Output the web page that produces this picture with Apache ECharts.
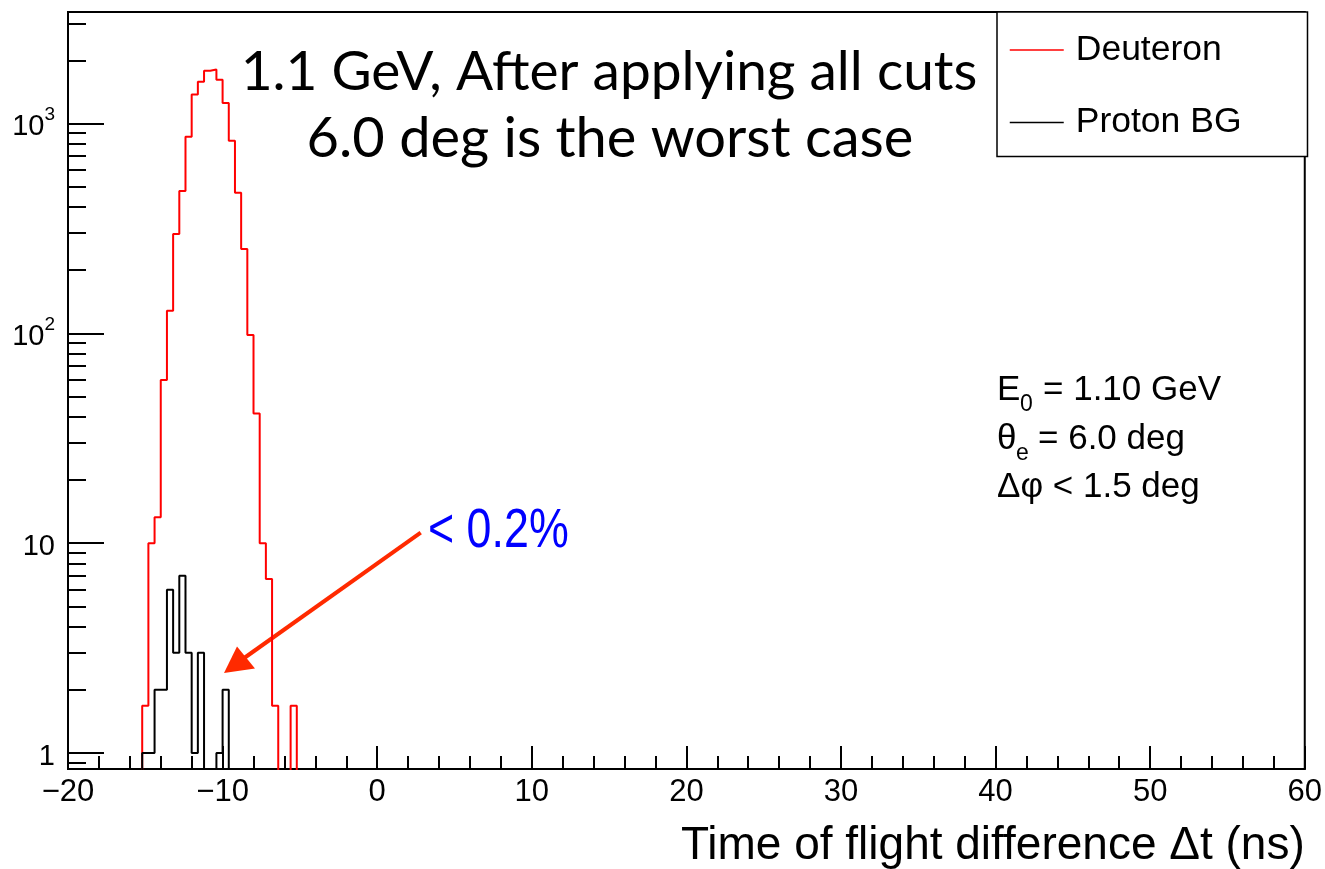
<!DOCTYPE html>
<html><head><meta charset="utf-8">
<script src="https://cdn.jsdelivr.net/npm/echarts@6/dist/echarts.min.js"></script>
<style>html,body{margin:0;padding:0;background:#fff}#c{width:1325px;height:869px}</style>
</head><body><div id="c"></div>
<script>
// ---- data ----
const binStarts = [-15.2,-14.8,-14.4,-14.0,-13.6,-13.2,-12.8,-12.4,-12.0,-11.6,-11.2,-10.8,-10.4,-10.0,-9.6,-9.2,-8.8,-8.4,-8.0,-7.6,-7.2,-6.8,-6.4,-6.0,-5.6];
const binWidth = 0.4;
const deuteron = [1.68,10,13.3,59.9,128,297,477,865,1374,1579,1781,1808,1614,1250,826,468,252,98.2,41.5,10,6.74,1.68,0,0,1.68];
const protonBG = [1,1,2,2,6,3,7,3,1,3,0,0,1,2,0,0,0,0,0,0,0,0,0,0,0];
const seriesNames = ['Deuteron','Proton BG'];
const seriesColors = ['#ff0000','#000000'];
const yMajorTicks = [1,10,100,1000];
const yMinorTicks = [0.9,2,3,4,5,6,7,8,9,20,30,40,50,60,70,80,90,200,300,400,500,600,700,800,900,2000,3000];
const xAxisTitle = 'Time of flight difference \u0394t (ns)';
const headline = ['1.1 GeV, After applying all cuts','6.0 deg is the worst case'];
const note = '< 0.2%';

const FONT = "'Liberation Sans', Arial, Helvetica, sans-serif";
const COMIC = "'Comic Sans MS', Lato, sans-serif";
const FLOOR = 0.5; // zero-content bins drawn below the frame (clipped)

function outline(vals){
  const pts = [[binStarts[0], FLOOR]];
  vals.forEach((v,i)=>{
    const y = v > 0 ? v : FLOOR;
    pts.push([binStarts[i], y], [binStarts[i] + binWidth, y]);
  });
  pts.push([binStarts[binStarts.length-1] + binWidth, FLOOR]);
  return pts;
}

const chart = echarts.init(document.getElementById('c'), null, {renderer:'canvas'});
const yMin = 0.839, yMax = 3396;

function txt(x, y, text, size, extra){
  return Object.assign({type:'text', x:x, y:y, style:{text:text, align:'left', verticalAlign:'middle', fill:'#000', fontSize:size, fontFamily:FONT}}, extra || {});
}

chart.setOption({
  animation:false,
  backgroundColor:'#fff',
  grid:{left:68, right:18, top:12, bottom:100, show:true, borderColor:'#000', borderWidth:2, backgroundColor:'transparent'},
  xAxis:{
    type:'value', min:-20, max:60, interval:10,
    axisLine:{onZero:false, lineStyle:{color:'#000', width:2}},
    axisTick:{inside:true, length:23, lineStyle:{color:'#000', width:2}},
    minorTick:{show:true, splitNumber:5, length:13, lineStyle:{color:'#000', width:2}},
    splitLine:{show:false}, minorSplitLine:{show:false},
    axisLabel:{color:'#000', fontSize:31, fontFamily:FONT, margin:8,
      formatter:v => v < 0 ? '\u2212' + Math.abs(v) : String(v)},
    name:xAxisTitle, nameLocation:'end', nameGap:0,
    nameTextStyle:{color:'#000', fontSize:46, fontFamily:FONT, align:'right', verticalAlign:'top', padding:[54,0,0,0]}
  },
  yAxis:[{
    type:'log', logBase:10, min:yMin, max:yMax,
    axisLine:{onZero:false, lineStyle:{color:'#000', width:2}},
    axisTick:{inside:true, length:36, lineStyle:{color:'#000', width:2}, customValues:yMajorTicks},
    splitLine:{show:false},
    axisLabel:{color:'#000', margin:13, customValues:yMajorTicks,
      formatter:v => {
        const e = Math.round(Math.log10(v));
        if (e === 0) return '{b|1}';
        if (e === 1) return '{b|10}';
        return '{b|10}{s|' + e + '}';
      },
      rich:{
        b:{fontSize:29, fontFamily:FONT, color:'#000', verticalAlign:'bottom', lineHeight:36},
        s:{fontSize:19, fontFamily:FONT, color:'#000', verticalAlign:'top', lineHeight:19}
      }}
  },{
    type:'log', logBase:10, min:yMin, max:yMax, position:'left', offset:0,
    axisLine:{show:false, onZero:false},
    axisTick:{inside:true, length:18, lineStyle:{color:'#000', width:2}, customValues:yMinorTicks},
    axisLabel:{show:false}, splitLine:{show:false}
  }],
  legend:{
    left:997, top:12, orient:'vertical', selectedMode:false,
    data:seriesNames,
    itemWidth:54, itemHeight:14, itemGap:28.4,
    padding:[16,66,12,12],
    borderColor:'#000', borderWidth:1.5, backgroundColor:'#fff',
    itemStyle:{opacity:0},
    lineStyle:{width:1.5},
    textStyle:{fontSize:35.5, fontFamily:FONT, color:'#000', lineHeight:40, padding:[4,0,0,7]}
  },
  series:[0,1].map(i => ({
    name:seriesNames[i], type:'line', xAxisIndex:0, yAxisIndex:0,
    data:outline(i === 0 ? deuteron : protonBG),
    symbol:'none', clip:true, silent:true,
    color:seriesColors[i],
    lineStyle:{color:seriesColors[i], width:2},
    z: 3 + i
  })),
  graphic:[
    {type:'text', x:609, y:72, style:{text:headline[0], align:'center', verticalAlign:'middle', fill:'#000', fontSize:55, fontFamily:COMIC}},
    {type:'text', x:610, y:139, style:{text:headline[1], align:'center', verticalAlign:'middle', fill:'#000', fontSize:56, fontFamily:COMIC}},
    // info box
    txt(997, 390, 'E', 35),
    txt(1020, 405, '0', 23),
    txt(1043, 390, '= 1.10 GeV', 35),
    txt(997, 439, '\u03b8', 35),
    txt(1016, 454, 'e', 23),
    txt(1038, 439, '= 6.0 deg', 35),
    txt(997, 487, '\u0394\u03c6 < 1.5 deg', 35),
    // note + arrow
    {type:'text', x:428, y:532, scaleX:0.8, scaleY:1, style:{text:note, align:'left', verticalAlign:'middle', fill:'#0000ff', fontSize:56, fontFamily:FONT}},
    {type:'line', shape:{x1:420.7, y1:532.7, x2:240, y2:661}, style:{stroke:'#ff2a00', lineWidth:4}},
    {type:'polygon', shape:{points:[[224,673],[237,646.5],[255,668.5]]}, style:{fill:'#ff2a00'}}
  ]
});
</script></body></html>
